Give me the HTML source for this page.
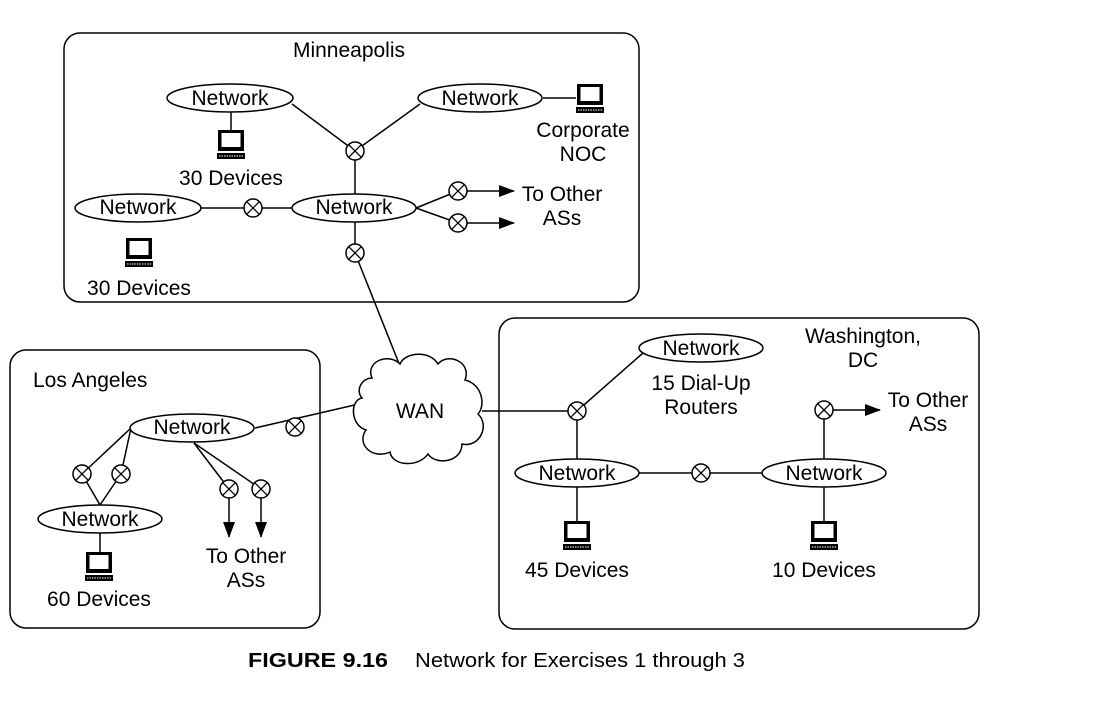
<!DOCTYPE html>
<html><head><meta charset="utf-8"><style>
html,body{margin:0;padding:0;background:#fff;}
svg{display:block;}
text{font-family:"Liberation Sans",Arial,sans-serif;font-size:21px;fill:#000;}
</style></head><body>
<svg width="1117" height="715" viewBox="0 0 1117 715" xmlns="http://www.w3.org/2000/svg">
<defs>
<g id="rt"><circle r="9" fill="#fff" stroke="#000" stroke-width="1.5"/><path d="M-6.3,-6.3L6.3,6.3M-6.3,6.3L6.3,-6.3" stroke="#000" stroke-width="1.3"/></g>
<g id="pc">
<rect x="-13" y="0" width="26" height="21" fill="#000"/>
<rect x="-9.5" y="3" width="19" height="14" fill="#fff"/>
<rect x="-14" y="23" width="28" height="6" fill="#000"/>
<line x1="-12" y1="26" x2="12" y2="26" stroke="#fff" stroke-width="1" stroke-dasharray="1.5,1"/>
</g>
<marker id="ar2" markerWidth="16" markerHeight="12" refX="15" refY="6" orient="auto" markerUnits="userSpaceOnUse"><path d="M0,0L16,6L0,12z" fill="#000"/></marker>
</defs>
<g fill="none" stroke="#000" stroke-width="1.5">
<rect x="64" y="33" width="575" height="269" rx="16"/>
<rect x="10" y="350" width="310" height="278" rx="16"/>
<rect x="499" y="318" width="480" height="311" rx="16"/>
<line x1="292" y1="104" x2="355" y2="151"/>
<line x1="420" y1="104" x2="355" y2="151"/>
<line x1="355" y1="151" x2="355" y2="194"/>
<line x1="201" y1="208" x2="292" y2="208"/>
<line x1="416" y1="208" x2="458" y2="191"/>
<line x1="416" y1="208" x2="458" y2="223"/>
<line x1="355" y1="222" x2="355" y2="253"/>
<line x1="355" y1="253" x2="400" y2="366"/>
<line x1="543" y1="98" x2="576" y2="98"/>
<line x1="231" y1="112" x2="231" y2="130"/>
<line x1="467" y1="191" x2="514" y2="191" marker-end="url(#ar2)"/>
<line x1="467" y1="223" x2="514" y2="223" marker-end="url(#ar2)"/>
<line x1="359" y1="404" x2="255" y2="428"/>
<line x1="131" y1="428" x2="82" y2="474"/>
<line x1="131" y1="428" x2="121" y2="474"/>
<line x1="82" y1="474" x2="100" y2="505"/>
<line x1="121" y1="474" x2="100" y2="505"/>
<line x1="194" y1="443" x2="229" y2="489"/>
<line x1="194" y1="443" x2="261" y2="489"/>
<line x1="229" y1="489" x2="229" y2="537" marker-end="url(#ar2)"/>
<line x1="261" y1="489" x2="261" y2="537" marker-end="url(#ar2)"/>
<line x1="100" y1="533" x2="100" y2="552"/>
<line x1="482" y1="411" x2="577" y2="411"/>
<line x1="577" y1="411" x2="643" y2="353"/>
<line x1="577" y1="411" x2="577" y2="460"/>
<line x1="639" y1="473" x2="762" y2="473"/>
<line x1="824" y1="459" x2="824" y2="410"/>
<line x1="833" y1="410" x2="880" y2="410" marker-end="url(#ar2)"/>
<line x1="577" y1="487" x2="577" y2="521"/>
<line x1="824" y1="487" x2="824" y2="521"/>
<g fill="#fff">
<ellipse cx="230" cy="98" rx="63" ry="14"/>
<ellipse cx="480" cy="98" rx="62" ry="14"/>
<ellipse cx="138" cy="208" rx="63" ry="14"/>
<ellipse cx="354" cy="208" rx="62" ry="14"/>
<ellipse cx="192" cy="428" rx="62" ry="14"/>
<ellipse cx="100" cy="519" rx="62" ry="14"/>
<ellipse cx="701" cy="348" rx="62" ry="14"/>
<ellipse cx="577" cy="473" rx="62" ry="14"/>
<ellipse cx="824" cy="473" rx="62" ry="14"/>
<path d="M372,378 C365,362 388,352 400,364 C405,352 430,350 438,364 C448,352 472,362 465,380 C482,384 486,405 478,414 C490,425 480,448 462,444 C462,462 436,466 428,454 C418,468 392,466 390,452 C372,460 356,444 366,430 C350,425 350,400 362,398 C355,390 362,378 372,378 Z"/>
</g>
</g>
<use href="#rt" x="355" y="151"/>
<use href="#rt" x="253" y="208"/>
<use href="#rt" x="458" y="191"/>
<use href="#rt" x="458" y="223"/>
<use href="#rt" x="355" y="253"/>
<use href="#rt" x="295" y="427"/>
<use href="#rt" x="82" y="474"/>
<use href="#rt" x="121" y="474"/>
<use href="#rt" x="229" y="489"/>
<use href="#rt" x="261" y="489"/>
<use href="#rt" x="577" y="411"/>
<use href="#rt" x="701" y="473"/>
<use href="#rt" x="824" y="410"/>
<use href="#pc" x="231" y="130"/>
<use href="#pc" x="139" y="238"/>
<use href="#pc" x="590" y="84"/>
<use href="#pc" x="99" y="552"/>
<use href="#pc" x="577" y="521"/>
<use href="#pc" x="824" y="521"/>
<g text-anchor="middle">
<text x="349" y="57">Minneapolis</text>
<text x="230" y="105">Network</text>
<text x="480" y="105">Network</text>
<text x="138" y="214">Network</text>
<text x="354" y="214">Network</text>
<text x="231" y="185">30 Devices</text>
<text x="139" y="295">30 Devices</text>
<text x="583" y="137">Corporate</text>
<text x="583" y="161">NOC</text>
<text x="562" y="201">To Other</text>
<text x="562" y="225">ASs</text>
<text x="420" y="418">WAN</text>
<text x="192" y="434">Network</text>
<text x="100" y="526">Network</text>
<text x="99" y="606">60 Devices</text>
<text x="246" y="563">To Other</text>
<text x="246" y="587">ASs</text>
<text x="701" y="355">Network</text>
<text x="701" y="390">15 Dial-Up</text>
<text x="701" y="414">Routers</text>
<text x="863" y="343">Washington,</text>
<text x="863" y="367">DC</text>
<text x="928" y="407">To Other</text>
<text x="928" y="431">ASs</text>
<text x="577" y="480">Network</text>
<text x="824" y="480">Network</text>
<text x="577" y="577">45 Devices</text>
<text x="824" y="577">10 Devices</text>
</g>
<text x="33" y="387">Los Angeles</text>
<text x="248" y="667" textLength="140" lengthAdjust="spacingAndGlyphs" style="font-weight:bold;font-size:20px">FIGURE 9.16</text>
<text x="415" y="667" textLength="330" lengthAdjust="spacingAndGlyphs" style="font-size:20px">Network for Exercises 1 through 3</text>
</svg>
</body></html>
